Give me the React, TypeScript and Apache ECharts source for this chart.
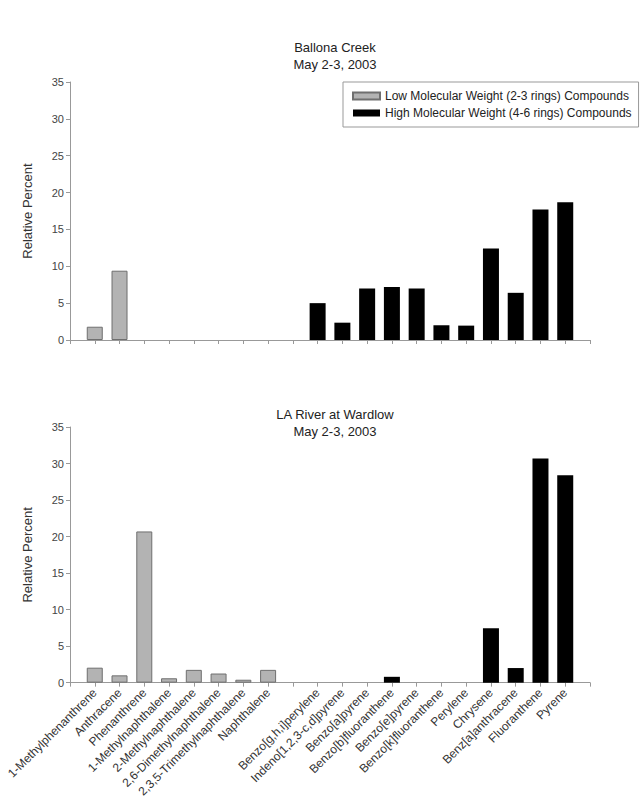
import React, { useEffect, useRef } from "react";
import * as echarts from "echarts";

const lowCompounds = [
  "1-Methylphenanthrene",
  "Anthracene",
  "Phenanthrene",
  "1-Methylnaphthalene",
  "2-Methylnaphthalene",
  "2,6-Dimethylnaphthalene",
  "2,3,5-Trimethylnaphthalene",
  "Naphthalene",
];
const highCompounds = [
  "Benzo[g,h,i]perylene",
  "Indeno[1,2,3-c,d]pyrene",
  "Benzo[a]pyrene",
  "Benzo[b]fluoranthene",
  "Benzo[e]pyrene",
  "Benzo[k]fluoranthene",
  "Perylene",
  "Chrysene",
  "Benz[a]anthracene",
  "Fluoranthene",
  "Pyrene",
];

const ballonaLow = [1.8, 9.4, 0, 0, 0, 0, 0, 0];
const ballonaHigh = [5.0, 2.35, 7.0, 7.2, 7.0, 2.0, 1.95, 12.4, 6.4, 17.7, 18.7];
const wardlowLow = [2.05, 1.0, 20.7, 0.6, 1.75, 1.25, 0.4, 1.75];
const wardlowHigh = [0, 0, 0, 0.8, 0, 0, 0, 7.45, 2.0, 30.7, 28.4];

const yTicks = [0, 5, 10, 15, 20, 25, 30, 35];

const LOW_NAME = "Low Molecular Weight (2-3 rings) Compounds";
const HIGH_NAME = "High Molecular Weight (4-6 rings) Compounds";
const FONT = "Liberation Sans, Arial, Helvetica, sans-serif";

// axis points: blank start, low compounds, blank gap, high compounds, blank end
const axisCats = ["", ...lowCompounds, "", ...highCompounds, ""];

function padLow(vals: number[]) {
  const arr: (number | string)[] = axisCats.map(() => "-");
  vals.forEach((v, i) => {
    arr[1 + i] = v > 0 ? v : "-";
  });
  return arr;
}
function padHigh(vals: number[]) {
  const arr: (number | string)[] = axisCats.map(() => "-");
  vals.forEach((v, i) => {
    arr[1 + lowCompounds.length + 1 + i] = v > 0 ? v : "-";
  });
  return arr;
}

export default function App() {
  const ref = useRef<HTMLDivElement>(null);
  useEffect(() => {
    if (!ref.current) return;
    const chart = echarts.init(ref.current, null, { renderer: "svg" });
    const axisColor = "#999";
    const makeX = (gridIndex: number, showLabels: boolean) => ({
      type: "category",
      gridIndex,
      data: axisCats,
      boundaryGap: false,
      axisLine: { lineStyle: { color: axisColor, width: 1 } },
      axisTick: { show: true, interval: 0, length: 4, lineStyle: { color: axisColor } },
      axisLabel: {
        show: showLabels,
        interval: 0,
        rotate: 45,
        fontSize: 12,
        color: "#333",
        fontFamily: FONT,
        margin: 8,
      },
      splitLine: { show: false },
    });
    const makeY = (gridIndex: number) => ({
      type: "value",
      gridIndex,
      min: yTicks[0],
      max: yTicks[yTicks.length - 1],
      interval: 5,
      name: "Relative Percent",
      nameLocation: "middle",
      nameGap: 36,
      nameTextStyle: { fontSize: 13, color: "#333", fontFamily: FONT },
      axisLine: { show: true, lineStyle: { color: axisColor, width: 1 } },
      axisTick: { show: true, length: 4, lineStyle: { color: axisColor } },
      axisLabel: { fontSize: 11, color: "#444", fontFamily: FONT, margin: 6 },
      splitLine: { show: false },
    });
    const lowStyle = { color: "#b3b3b3", borderColor: "#6f6f6f", borderWidth: 1 };
    const highStyle = { color: "#000000" };
    const option = {
      animation: false,
      backgroundColor: "#ffffff",
      title: [
        {
          text: "Ballona Creek\nMay 2-3, 2003",
          left: 330,
          top: 34,
          textAlign: "center",
          textStyle: { fontSize: 13, fontWeight: "normal", color: "#222", fontFamily: FONT, lineHeight: 17 },
        },
        {
          text: "LA River at Wardlow\nMay 2-3, 2003",
          left: 330,
          top: 401,
          textAlign: "center",
          textStyle: { fontSize: 13, fontWeight: "normal", color: "#222", fontFamily: FONT, lineHeight: 17 },
        },
      ],
      legend: {
        data: [LOW_NAME, HIGH_NAME],
        orient: "vertical",
        left: 343,
        top: 82,
        itemWidth: 27,
        itemHeight: 7,
        itemGap: 5,
        icon: "rect",
        borderColor: "#999",
        borderWidth: 1,
        padding: [8, 7, 8, 9],
        textStyle: { fontSize: 12, color: "#222", fontFamily: FONT },
      },
      grid: [
        { left: 70, top: 82, width: 520, height: 258 },
        { left: 70, top: 427, width: 520, height: 259 },
      ],
      xAxis: [makeX(0, false), makeX(1, true)],
      yAxis: [makeY(0), makeY(1)],
      series: [
        { name: LOW_NAME, type: "bar", xAxisIndex: 0, yAxisIndex: 0, stack: "top", barWidth: 16, data: padLow(ballonaLow), itemStyle: lowStyle },
        { name: HIGH_NAME, type: "bar", xAxisIndex: 0, yAxisIndex: 0, stack: "top", barWidth: 16, data: padHigh(ballonaHigh), itemStyle: highStyle },
        { name: LOW_NAME, type: "bar", xAxisIndex: 1, yAxisIndex: 1, stack: "bot", barWidth: 16, data: padLow(wardlowLow), itemStyle: lowStyle },
        { name: HIGH_NAME, type: "bar", xAxisIndex: 1, yAxisIndex: 1, stack: "bot", barWidth: 16, data: padHigh(wardlowHigh), itemStyle: highStyle },
      ],
    };
    chart.setOption(option as any);
    return () => chart.dispose();
  }, []);
  return (
    <div
      ref={ref}
      style={{ position: "absolute", left: 0, top: 0, width: 641, height: 800, background: "#fff" }}
    />
  );
}
